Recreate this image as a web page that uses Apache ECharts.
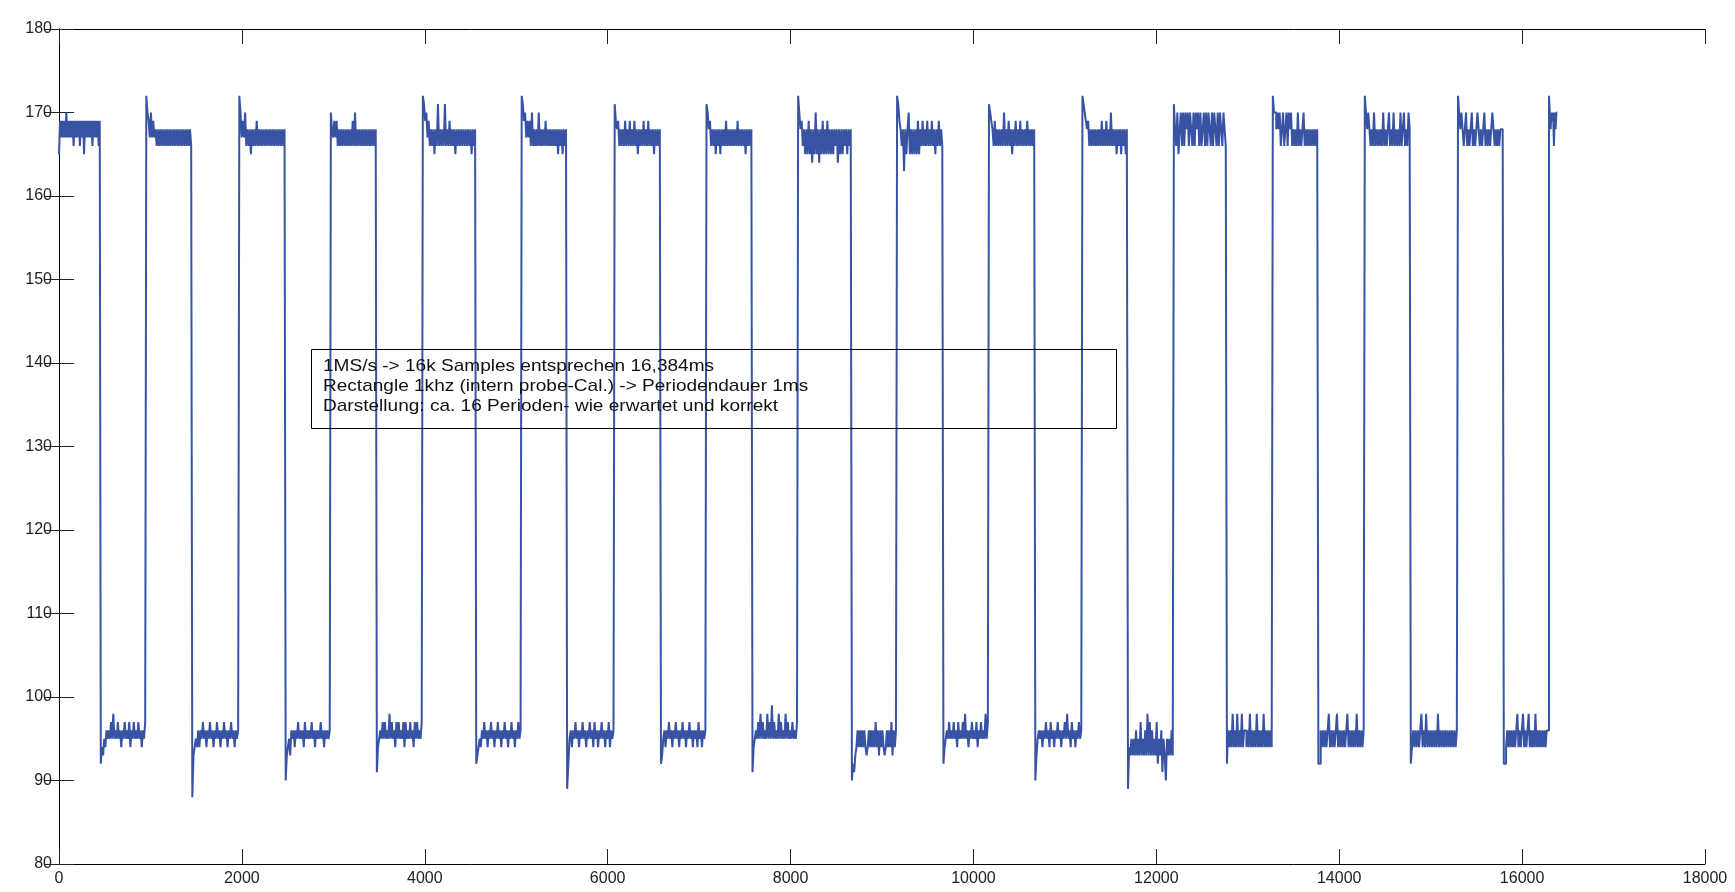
<!DOCTYPE html>
<html>
<head>
<meta charset="utf-8">
<title>Rectangle 1kHz</title>
<script src="https://cdn.jsdelivr.net/npm/echarts@6/dist/echarts.min.js"></script>
<style>
  html, body { margin: 0; padding: 0; background: #fff; }
  #chart { width: 1735px; height: 892px; }
</style>
</head>
<body>
<div id="chart"></div>
<script>
// sample index of every edge (fall, rise, fall ...), last one = end of record
var edges = [0, 457, 955, 1458, 1972, 2479, 2973, 3476, 3979, 4563, 5060, 5557, 6077, 6583, 7081, 7584,
             8083, 8671, 9165, 9672, 10170, 10677, 11192, 11690, 12192, 12772, 13274, 13772, 14280,
             14783, 15299, 15800, 16294, 16384];

// ADC levels (H0..H16)
var highLevels = [
    [165,169,167,169,167,169,167,170,167,169,167,169,167,169,166,169,167,169,167,169,166,169,167,169,165,169,167,169,167,169,167,169,166,169,167,169,167,169,166,169],
    [172,170,169,167,170,167,169,167,168,166,168,166,168,166,168,166,168,166,168,166,168,166,168,166,168,166,168,166,168,166,168,166,168,166,168,166,168,166,168,166],
    [172,170,167,169,167,170,166,168,166,168,165,168,166,168,166,169,166,168,166,168,166,168,166,168,166,168,166,168,166,168,166,168,166,168,166,168,166,168,166,168],
    [170,168,167,169,167,169,166,168,166,168,166,168,166,168,166,168,166,168,166,169,166,170,166,168,166,168,166,168,166,168,166,168,166,168,166,168,166,168,166,168],
    [172,171,169,170,167,169,166,168,166,168,165,168,166,171,166,168,166,168,166,171,166,168,166,169,166,168,166,168,165,168,166,168,166,168,166,168,166,168,166,168,166,168,165,168,166,168],
    [172,171,169,170,167,169,167,169,166,170,166,168,166,168,166,170,166,168,166,168,166,169,166,168,166,168,166,168,166,168,166,168,165,168,166,168,165,168,166,168],
    [171,169,168,169,166,168,166,168,166,169,166,168,166,169,166,168,166,169,166,168,165,168,166,168,166,169,166,168,166,169,166,168,166,168,165,168,166,168,166,168],
    [171,170,168,169,166,168,166,168,165,168,166,168,165,168,166,168,166,169,166,168,166,168,166,168,166,168,166,169,166,168,166,168,166,168,165,168,166,168,166,168],
    [172,170,168,169,166,168,165,168,165,169,165,168,164,168,165,170,165,168,164,168,165,169,165,168,165,169,165,168,165,168,165,168,166,168,164,168,165,168,165,168,166,168,165,168,166,168],
    [172,171,169,168,166,168,163,168,165,168,170,165,168,165,168,165,168,165,169,165,168,166,169,166,168,166,169,166,168,166,169,166,168,165,168,166,169,166,168,166],
    [171,170,169,168,166,169,166,168,166,168,166,168,166,170,166,168,166,169,166,168,165,168,166,169,166,168,166,169,166,168,166,168,166,169,166,168,166,168,166,168],
    [172,171,170,169,168,169,166,168,166,168,166,168,166,168,166,168,166,169,166,168,166,169,166,168,166,170,166,168,166,168,165,168,166,168,165,168,166,168,165,168],
    [171,168,166,170,165,168,170,166,170,166,170,168,170,166,170,168,166,170,166,170,168,170,166,170,166,168,170,166,170,166,170,168,166,170,166,170,168,166,170,166,170,168,166,170,168,166],
    [172,170,170,168,170,168,170,166,168,170,166,168,170,166,170,168,170,166,168,166,168,166,170,166,168,166,168,170,166,168,166,168,166,168,166,168,166,168,166,168],
    [172,170,168,170,168,166,168,166,170,166,168,166,168,166,168,166,170,166,168,166,168,170,166,168,166,170,166,168,166,168,166,170,166,168,170,166,168,166,170,168],
    [172,170,168,170,168,166,168,170,166,168,166,168,170,166,168,166,168,170,168,166,168,166,168,170,166,168,166,168,166,168,170,168,166,168,166,168,166,168,168,168],
    [172,170,168,170,169,170,166,170,168,170]
];

// ADC levels (L1..L16)
var lowLevels = [
    [92,94,93,95,94,96,95,96,95,97,95,98,95,96,95,97,95,96,94,96,95,97,95,96,95,97,94,96,95,97,95,96,95,97,95,96,94,96,95,97],
    [88,93,94,95,94,96,94,96,95,97,95,96,94,96,95,97,95,96,94,96,95,97,95,96,94,96,95,97,95,96,94,96,95,97,95,96,94,96,95,96],
    [90,93,94,95,93,96,95,96,94,96,95,97,95,96,95,96,94,97,95,96,95,96,95,97,95,96,94,96,95,96,95,97,95,96,94,96,95,96,95,96],
    [91,94,95,96,95,97,95,97,95,96,95,98,95,97,95,96,94,97,95,97,95,96,95,97,94,97,95,96,95,97,95,96,94,97,95,97,95,96,95,97],
    [92,93,94,95,94,96,95,97,95,96,94,96,95,97,95,96,94,96,95,97,95,96,94,96,95,97,95,96,94,96,95,97,95,96,94,96,95,97,95,96],
    [89,92,95,96,94,96,95,97,95,96,94,96,95,97,95,96,94,96,95,97,95,96,94,97,95,96,94,96,95,97,95,96,94,96,95,97,94,96,95,96],
    [92,93,95,96,94,96,95,97,95,96,94,96,95,97,95,96,94,96,95,97,95,96,94,96,95,97,95,96,94,96,95,96,94,97,95,96,94,96,95,96],
    [91,94,95,96,95,97,95,98,95,97,95,96,95,98,95,97,95,99,95,97,95,96,95,98,95,97,95,96,95,98,95,97,95,96,95,97,95,96,95,97],
    [90,92,91,93,94,96,94,96,94,96,94,96,94,93,94,96,94,96,94,96,94,97,94,96,93,96,94,96,94,93,94,96,94,96,94,97,93,96,94,96],
    [92,94,95,96,95,97,95,96,95,97,95,96,94,97,95,96,95,97,95,98,95,96,94,96,95,97,95,96,95,97,94,96,95,97,95,96,95,98,95,97],
    [90,93,95,96,95,96,94,96,95,97,95,96,94,97,95,96,94,96,95,97,95,96,94,96,95,97,95,98,95,96,94,97,95,96,94,96,95,97,95,96],
    [89,94,93,95,93,95,93,96,93,95,93,97,93,95,93,96,93,98,93,97,93,96,93,95,93,97,92,95,93,96,91,95,93,90,95,93,95,93,96,93],
    [92,96,94,96,94,98,94,96,94,98,94,96,94,98,94,96,96,94,96,94,98,94,96,94,96,94,98,94,96,94,96,94,98,94,96,94,96,94,96,94],
    [92,92,96,94,96,94,96,94,96,98,94,96,94,96,94,96,98,94,96,94,96,94,96,94,96,98,94,96,94,96,94,96,94,98,94,96,94,96,94,96],
    [92,94,96,94,96,94,96,94,96,98,94,96,94,98,94,96,94,96,94,96,94,96,94,98,94,96,94,96,94,96,94,96,94,96,94,96,94,96,94,96],
    [92,92,94,96,94,96,94,96,94,96,94,96,98,94,96,94,96,98,94,96,94,96,98,94,96,94,96,94,98,94,96,94,96,94,96,94,96,94,96,96]
];

var xTicks = [0, 2000, 4000, 6000, 8000, 10000, 12000, 14000, 16000, 18000];
var yTicks = [80, 90, 100, 110, 120, 130, 140, 150, 160, 170, 180];

var noteLines = [
    '1MS/s -> 16k Samples entsprechen 16,384ms',
    'Rectangle 1khz (intern probe-Cal.) -> Periodendauer 1ms',
    'Darstellung: ca. 16 Perioden- wie erwartet und korrekt'
];

// build the sample series: high, low, high, ... each phase spread over its edge range
var seriesData = [];
for (var k = 0; k < edges.length - 1; k++) {
    var lv = (k % 2 === 0) ? highLevels[k / 2] : lowLevels[(k - 1) / 2];
    var s = edges[k], e = edges[k + 1];
    for (var i = 0; i < lv.length; i++) {
        seriesData.push([s + i * (e - s) / lv.length, lv[i]]);
    }
}
var lastHigh = highLevels[highLevels.length - 1];
seriesData.push([edges[edges.length - 1], lastHigh[lastHigh.length - 1]]);

var chart = echarts.init(document.getElementById('chart'));

var tickFont = {
    fontFamily: 'Arial, "Liberation Sans", sans-serif',
    fontSize: 16,
    color: '#222',
    formatter: function (v) { return String(v); }
};
var axLine = { show: true, lineStyle: { color: '#000', width: 1 } };
var axTick = { show: true, inside: true, length: 15, lineStyle: { color: '#222', width: 1 } };

var option = {
    animation: false,
    backgroundColor: '#fff',
    grid: { left: 59, right: 30, top: 29, bottom: 28, containLabel: false },
    xAxis: [{
        type: 'value',
        min: xTicks[0],
        max: xTicks[xTicks.length - 1],
        interval: xTicks[1] - xTicks[0],
        position: 'bottom',
        axisLine: axLine,
        axisTick: axTick,
        splitLine: { show: false },
        axisLabel: Object.assign({ margin: 7 }, tickFont)
    }, {
        type: 'value',
        min: xTicks[0],
        max: xTicks[xTicks.length - 1],
        interval: xTicks[1] - xTicks[0],
        position: 'top',
        axisLine: axLine,
        axisTick: axTick,
        splitLine: { show: false },
        axisLabel: { show: false }
    }],
    yAxis: [{
        type: 'value',
        min: yTicks[0],
        max: yTicks[yTicks.length - 1],
        interval: yTicks[1] - yTicks[0],
        position: 'left',
        axisLine: axLine,
        axisTick: axTick,
        splitLine: { show: false },
        axisLabel: Object.assign({ margin: 7 }, tickFont)
    }, {
        type: 'value',
        min: yTicks[0],
        max: yTicks[yTicks.length - 1],
        interval: yTicks[1] - yTicks[0],
        position: 'right',
        axisLine: axLine,
        axisTick: axTick,
        splitLine: { show: false },
        axisLabel: { show: false }
    }],
    series: [{
        type: 'line',
        xAxisIndex: 0,
        yAxisIndex: 0,
        data: seriesData,
        step: 'end',
        showSymbol: false,
        symbol: 'none',
        lineStyle: { color: '#3853a4', width: 2 },
        z: 2
    }],
    graphic: [{
        type: 'rect',
        left: 311,
        top: 349,
        shape: { width: 805, height: 79 },
        style: { fill: 'transparent', stroke: '#000', lineWidth: 1 },
        z: 10
    }, {
        type: 'text',
        x: 323,
        y: 356,
        scaleX: 1.12,
        style: {
            text: noteLines.join('\n'),
            fontFamily: 'Arial, "Liberation Sans", sans-serif',
            fontSize: 17,
            lineHeight: 20,
            fill: '#111'
        },
        z: 11
    }]
};

chart.setOption(option);
</script>
</body>
</html>
